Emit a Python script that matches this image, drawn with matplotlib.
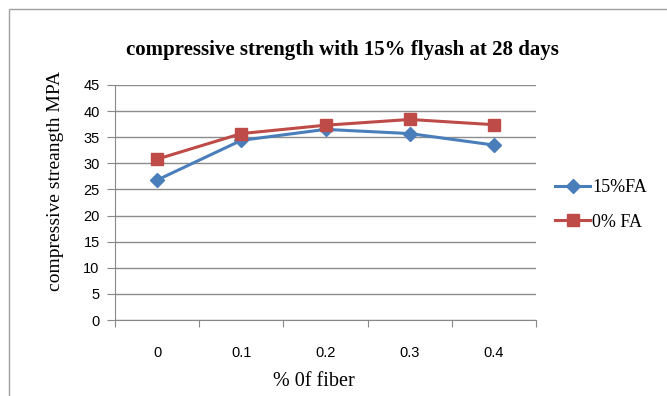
import matplotlib.pyplot as plt
from matplotlib.patches import Rectangle

# ---------------------------------------------------------------
# DATA
# ---------------------------------------------------------------

fiber_labels = ["0", "0.1", "0.2", "0.3", "0.4"]

strength_15fa = [26.8, 34.4, 36.5, 35.7, 33.5]

strength_0fa = [30.8, 35.7, 37.3, 38.4, 37.4]

y_ticks = list(range(0, 50, 5))

# ---------------------------------------------------------------
# FIGURE
# ---------------------------------------------------------------

W, H = 667, 396

fig = plt.figure(figsize=(W / 100, H / 100), dpi=100)

# chart frame (runs off the right and bottom edge)
fig.patches.append(
    Rectangle(
        (9 / W, -0.05), 1.1, 1 - 9 / H + 0.05,
        transform=fig.transFigure,
        fill=False,
        edgecolor="#a0a0a0",
        linewidth=1.0
    )
)

ax = fig.add_axes([115 / W, 1 - 320 / H, 421 / W, 235 / H])

x = list(range(len(fiber_labels)))

ax.plot(
    x, strength_15fa,
    color="#4a7ebb", linewidth=2.2,
    marker="D", markersize=7, label="15%FA"
)

ax.plot(
    x, strength_0fa,
    color="#be4b48", linewidth=2.2,
    marker="s", markersize=8, label="0% FA"
)

ax.set_xlim(-0.5, len(fiber_labels) - 0.5)
ax.set_ylim(0, 45)

ax.set_yticks(y_ticks)
ax.set_yticklabels([str(v) for v in y_ticks], fontsize=10.5, fontfamily="Liberation Sans")

# category labels sit between the boundary ticks
ax.set_xticks([i - 0.5 for i in range(len(fiber_labels) + 1)])
ax.set_xticklabels([])
ax.set_xticks(x, minor=True)
ax.set_xticklabels(fiber_labels, minor=True, fontsize=10.5, fontfamily="Liberation Sans")
ax.tick_params(axis="x", which="minor", length=0, pad=19)
ax.tick_params(axis="x", which="major", length=5, color="#888888")
ax.tick_params(axis="y", length=6, color="#888888", pad=5)

ax.grid(axis="y", color="#8c8c8c", linewidth=1.0)
ax.set_axisbelow(True)

for side in ["top", "right"]:
    ax.spines[side].set_visible(False)
for side in ["left", "bottom"]:
    ax.spines[side].set_color("#888888")

fig.text(
    342 / W, 1 - 50 / H,
    "compressive strength with 15% flyash at 28 days",
    fontsize=15, fontweight="bold", fontfamily="Liberation Serif",
    ha="center", va="center"
)

ax.set_xlabel("% 0f fiber", fontsize=14.5, fontfamily="Liberation Serif")
ax.xaxis.set_label_coords((314 - 115) / 421, -(382 - 320) / 235)
ax.xaxis.label.set_va("center")

ax.set_ylabel("compressive streangth MPA", fontsize=14, fontfamily="Liberation Serif")
ax.yaxis.set_label_coords(-(115 - 55) / 421, (320 - 181) / 235)
ax.yaxis.label.set_va("center")

fig.legend(
    loc="center left",
    bbox_to_anchor=(555 / W, 1 - 205 / H),
    frameon=False,
    borderpad=0,
    borderaxespad=0,
    prop={"family": "Liberation Serif", "size": 13},
    handlelength=1.95,
    handletextpad=0.1,
    labelspacing=0.95
)

fig.savefig("out.png", dpi=100)
